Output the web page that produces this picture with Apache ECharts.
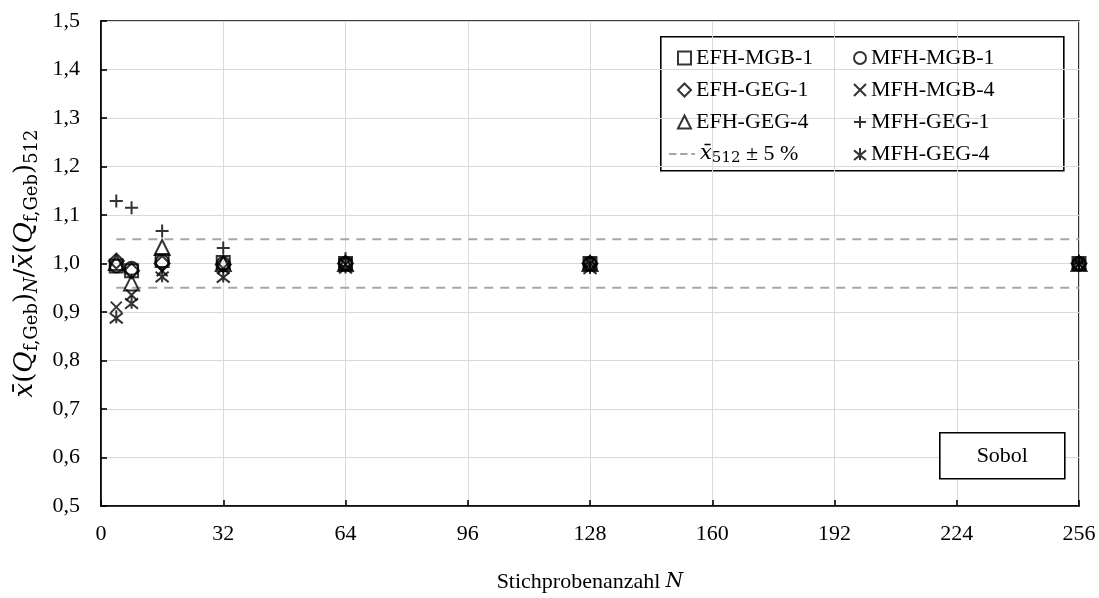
<!DOCTYPE html>
<html>
<head>
<meta charset="utf-8">
<script src="https://cdn.jsdelivr.net/npm/echarts@6/dist/echarts.min.js"></script>
<style>
  html, body { margin: 0; padding: 0; background: #fff; }
  #chart { width: 1099px; height: 598px; }
</style>
</head>
<body>
<div id="chart"></div>
<script>
// Sample sizes N (x positions of the markers)
const sampleSizes = [4, 8, 16, 32, 64, 128, 256];

// Mean ratio x̄(Q_f,Geb)_N / x̄(Q_f,Geb)_512 per building variant
const efhMgb1 = [0.995, 0.985, 1.006, 1.002, 1.0, 1.0, 1.0];
const efhGeg1 = [1.005, 0.985, 1.0, 0.998, 1.0, 1.0, 1.0];
const efhGeg4 = [1.002, 0.96, 1.033, 1.0, 1.0, 1.0, 1.0];
const mfhMgb1 = [0.995, 0.99, 1.004, 1.0, 1.0, 1.0, 1.0];
const mfhMgb4 = [0.91, 0.935, 0.985, 0.99, 0.998, 1.0, 1.0];
const mfhGeg1 = [1.129, 1.115, 1.067, 1.032, 1.01, 1.0, 1.0];
const mfhGeg4 = [0.89, 0.92, 0.975, 0.974, 0.993, 0.992, 1.0];

// ±5 % band around the N = 512 reference
const bandX = [4, 256];
const bandUpper = [1.05, 1.05];
const bandLower = [0.95, 0.95];

// Axis ticks
const xTicks = [0, 32, 64, 96, 128, 160, 192, 224, 256];
const yTicks = [0.5, 0.6, 0.7, 0.8, 0.9, 1.0, 1.1, 1.2, 1.3, 1.4, 1.5];

const FONT = 'Liberation Serif';
const MATH = 'DejaVu Serif';
const BAND_NAME = 'band';
const BAND_LABEL = '{it|x̄}{sub|512} ± 5 %';

const pts = (xs, ys) => xs.map((x, i) => [x, ys[i]]);

const SYM_CROSS = 'path://M0,0L10,10M10,0L0,10';
const SYM_PLUS = 'path://M5,0L5,10M0,5L10,5';
const SYM_STAR = 'path://M0,2L10,10M10,2L0,10M5,0L5,10';
const SYM_DASH = 'path://M0,0H8V2H0Z M12,0H20V2H12Z M24,0H28V2H24Z';

function markerSeries(name, values, symbol, size) {
  return {
    name: name,
    type: 'scatter',
    data: pts(sampleSizes, values),
    symbol: symbol,
    symbolSize: size,
    itemStyle: { color: 'rgba(0,0,0,0)', borderColor: '#000', borderWidth: 2 },
    z: 3
  };
}

function bandSeries(values) {
  return {
    name: BAND_NAME, type: 'line', data: pts(bandX, values),
    symbol: 'none', silent: true, z: 1,
    lineStyle: { color: '#a6a6a6', width: 2, type: [9, 7] },
    itemStyle: { color: '#a6a6a6' }
  };
}

const chart = echarts.init(document.getElementById('chart'), null, { renderer: 'canvas' });

const legendText = { fontFamily: FONT, fontSize: 22, color: '#000', lineHeight: 22 };

chart.setOption({
  backgroundColor: '#fff',
  animation: false,
  textStyle: { fontFamily: FONT },
  grid: {
    left: 101, right: 20, top: 21, bottom: 88,
    show: true, borderColor: '#000', borderWidth: 1.6, backgroundColor: 'transparent'
  },
  xAxis: {
    type: 'value',
    min: xTicks[0], max: xTicks[xTicks.length - 1], interval: 32,
    axisLine: { show: true, onZero: false, lineStyle: { color: '#000', width: 1.6 } },
    axisTick: { show: true, inside: true, length: 6, lineStyle: { color: '#000', width: 1.6 } },
    splitLine: { show: true, lineStyle: { color: '#d9d9d9', width: 1 } },
    axisLabel: { color: '#000', fontFamily: FONT, fontSize: 22, margin: 17 },
    name: 'Stichprobenanzahl {i|N}',
    nameLocation: 'middle',
    nameGap: 65,
    nameTextStyle: {
      color: '#000', fontFamily: FONT, fontSize: 22,
      rich: { i: { fontFamily: MATH, fontStyle: 'italic', fontSize: 20, color: '#000' } }
    }
  },
  yAxis: {
    type: 'value',
    min: yTicks[0], max: yTicks[yTicks.length - 1], interval: 0.1,
    axisLine: { show: true, onZero: false, lineStyle: { color: '#000', width: 1.6 } },
    axisTick: { show: true, inside: true, length: 6, lineStyle: { color: '#000', width: 1.6 } },
    splitLine: { show: true, lineStyle: { color: '#d9d9d9', width: 1 } },
    axisLabel: {
      color: '#000', fontFamily: FONT, fontSize: 22, margin: 21,
      formatter: v => v.toFixed(1).replace('.', ',')
    },
    name: '{it|x̄}{n|(}{it|Q}{sub|f,Geb}{n|)}{subi|N}{n|/}{it|x̄}{n|(}{it|Q}{sub|f,Geb}{n|)}{sub|512}',
    nameLocation: 'middle',
    nameGap: 57,
    nameRotate: 90,
    nameTextStyle: {
      color: '#000',
      rich: {
        n: { fontFamily: MATH, fontSize: 26, lineHeight: 32, color: '#000' },
        it: { fontFamily: MATH, fontStyle: 'italic', fontSize: 26, lineHeight: 32, color: '#000' },
        sub: { fontFamily: MATH, fontSize: 18, lineHeight: 18, verticalAlign: 'bottom', color: '#000' },
        subi: { fontFamily: MATH, fontStyle: 'italic', fontSize: 18, lineHeight: 18, verticalAlign: 'bottom', color: '#000' }
      }
    }
  },
  legend: [
    {
      data: ['EFH-MGB-1', 'EFH-GEG-1', 'EFH-GEG-4'],
      orient: 'vertical', left: 672, top: 42,
      itemWidth: 13, itemHeight: 13, itemGap: 10,
      selectedMode: false, textStyle: legendText
    },
    {
      data: [{ name: BAND_NAME, icon: SYM_DASH, itemStyle: { color: '#a6a6a6', borderWidth: 0 } }],
      orient: 'vertical', left: 664, top: 138,
      itemWidth: 26, itemHeight: 2,
      selectedMode: false,
      formatter: () => BAND_LABEL,
      textStyle: {
        fontFamily: FONT, fontSize: 22, color: '#000',
        rich: {
          it: { fontFamily: MATH, fontStyle: 'italic', fontSize: 21, lineHeight: 24, color: '#000' },
          sub: { fontFamily: MATH, fontSize: 15, lineHeight: 15, verticalAlign: 'bottom', color: '#000' }
        }
      }
    },
    {
      data: ['MFH-MGB-1', 'MFH-MGB-4', 'MFH-GEG-1', 'MFH-GEG-4'],
      orient: 'vertical', left: 848, top: 42,
      itemWidth: 12, itemHeight: 12, itemGap: 10,
      selectedMode: false, textStyle: legendText
    }
  ],
  graphic: [
    {
      type: 'rect', left: 660, top: 36, z: 0, silent: true,
      shape: { width: 403, height: 134 },
      style: { fill: '#fff', stroke: '#000', lineWidth: 1.6 }
    },
    {
      type: 'group', left: 939, top: 432, silent: true, z: 50,
      children: [
        { type: 'rect', z: 50, shape: { width: 125, height: 46 }, style: { fill: '#fff', stroke: '#000', lineWidth: 1.6 } },
        { type: 'text', z: 51, x: 62.5, y: 23, style: { text: 'Sobol', font: '22px "Liberation Serif"', fill: '#000', align: 'center', verticalAlign: 'middle' } }
      ]
    }
  ],
  series: [
    bandSeries(bandUpper),
    bandSeries(bandLower),
    markerSeries('EFH-MGB-1', efhMgb1, 'rect', 13),
    markerSeries('EFH-GEG-1', efhGeg1, 'diamond', 15),
    markerSeries('EFH-GEG-4', efhGeg4, 'triangle', 15),
    markerSeries('MFH-MGB-1', mfhMgb1, 'circle', 13),
    markerSeries('MFH-MGB-4', mfhMgb4, SYM_CROSS, 11),
    markerSeries('MFH-GEG-1', mfhGeg1, SYM_PLUS, 13),
    markerSeries('MFH-GEG-4', mfhGeg4, SYM_STAR, 13)
  ]
});
</script>
</body>
</html>
